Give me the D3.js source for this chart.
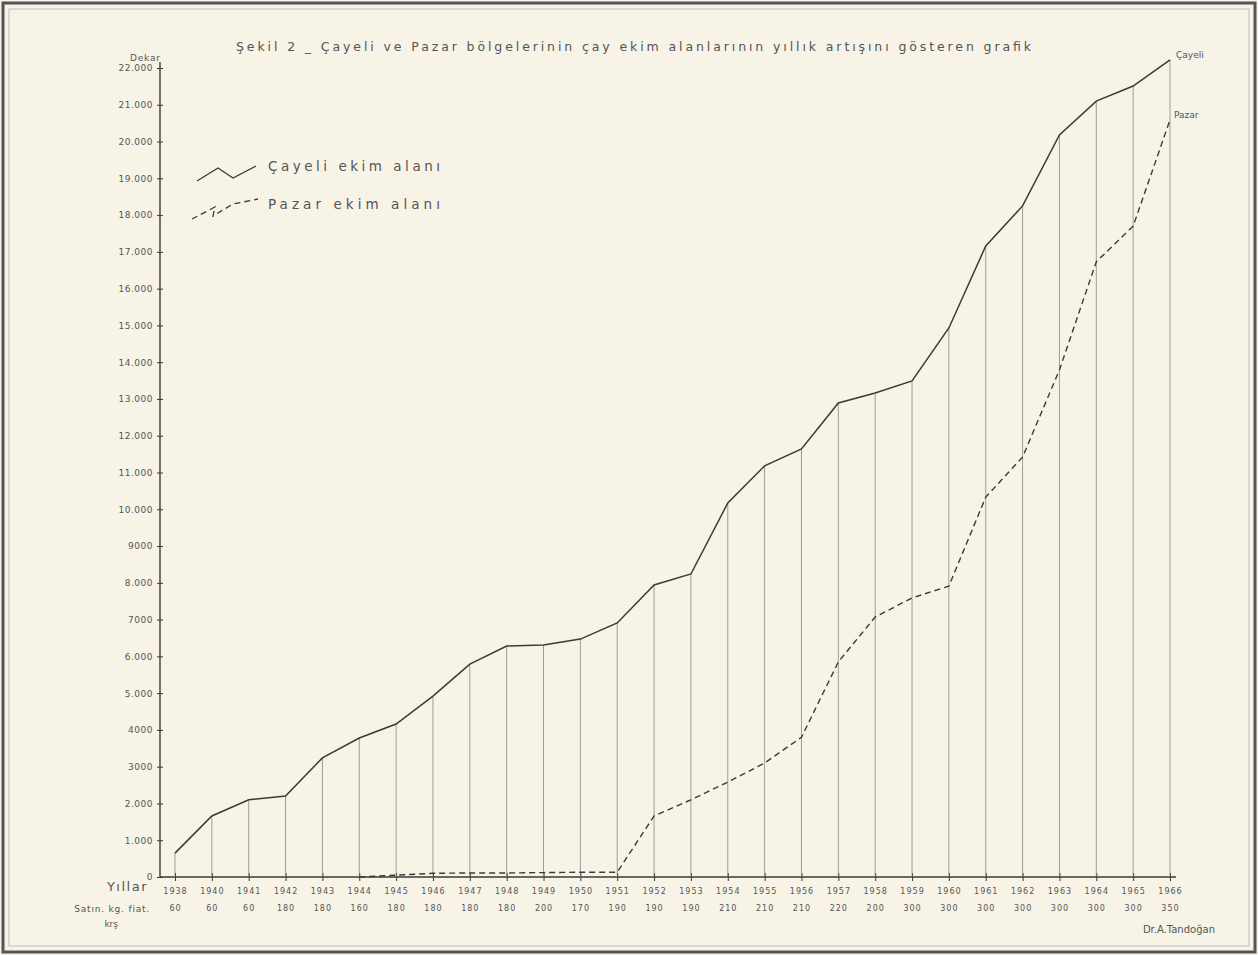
<!DOCTYPE html>
<html>
<head>
<meta charset="utf-8">
<script src="https://cdn.jsdelivr.net/npm/d3@7"></script>
<style>
  body { margin: 0; background: #f7f3e6; }
  svg text { font-family: "DejaVu Sans", sans-serif; fill: #555; }
</style>
</head>
<body>
<svg id="chart" width="1258" height="955"></svg>
<script>
// years on the x axis (1939 is missing in the original)
const years = [1938, 1940, 1941, 1942, 1943, 1944, 1945, 1946, 1947, 1948, 1949, 1950, 1951, 1952,
  1953, 1954, 1955, 1956, 1957, 1958, 1959, 1960, 1961, 1962, 1963, 1964, 1965, 1966];
// purchase price of fresh leaf, kuruş per kg
const prices = [60, 60, 60, 180, 180, 160, 180, 180, 180, 180, 200, 170, 190, 190,
  190, 210, 210, 210, 220, 200, 300, 300, 300, 300, 300, 300, 300, 350];
// planted area, dekar
const cayeli = [650, 1660, 2100, 2200, 3240, 3780, 4160, 4920, 5790, 6280, 6310, 6470, 6910, 7940,
  8240, 10170, 11180, 11640, 12890, 13160, 13490, 14930, 17160, 18250, 20180, 21100, 21510, 22220];
const pazar = [null, null, null, null, null, 0, 50, 100, 110, 110, 120, 130, 130, 1660,
  2100, 2580, 3100, 3800, 5850, 7070, 7590, 7910, 10330, 11420, 13790, 16730, 17700, 20590];
const yTicks = d3.range(0, 22001, 1000);
const yTickLabels = ['0', '1.000', '2.000', '3000', '4000', '5.000', '6.000', '7000', '8.000', '9000',
  '10.000', '11.000', '12.000', '13.000', '14.000', '15.000', '16.000', '17.000', '18.000', '19.000',
  '20.000', '21.000', '22.000'];

const svg = d3.select('#chart');
const ink = '#3a3a3a';

// paper frame
svg.append('rect').attr('x', 3).attr('y', 3).attr('width', 1252).attr('height', 949)
  .attr('fill', 'none').attr('stroke', '#555').attr('stroke-width', 3);
svg.append('rect').attr('x', 9).attr('y', 9).attr('width', 1240).attr('height', 937)
  .attr('fill', 'none').attr('stroke', '#999').attr('stroke-width', 0.6);

const x = d3.scalePoint().domain(years).range([175, 1170]);
const y = d3.scaleLinear().domain([0, 22000]).range([877, 68]);

// y axis
const yAxisG = svg.append('g').attr('transform', 'translate(160,0)')
  .call(d3.axisLeft(y).tickValues(yTicks).tickFormat((d, i) => yTickLabels[i]).tickSize(3).tickPadding(4));
yAxisG.select('.domain').attr('d', `M0,${y(0)}V${y(22000) - 6}`).attr('stroke', ink).attr('stroke-width', 1.4);
yAxisG.selectAll('.tick line').attr('x1', -3).attr('x2', 3).attr('stroke', ink);
yAxisG.selectAll('.tick text').attr('font-size', 9).attr('letter-spacing', 0.5).attr('fill', '#555');

// x axis with years
const xAxisG = svg.append('g').attr('transform', `translate(0,${y(0)})`)
  .call(d3.axisBottom(x).tickSize(3).tickPadding(8));
xAxisG.select('.domain').attr('d', 'M160,0H1176').attr('stroke', ink).attr('stroke-width', 1.4);
xAxisG.selectAll('.tick line').attr('y1', -4).attr('y2', 4).attr('stroke', ink);
xAxisG.selectAll('.tick text').attr('font-size', 8).attr('letter-spacing', 1).attr('fill', '#555');

// price row
const priceG = svg.append('g').attr('transform', `translate(0,${y(0) + 20})`)
  .call(d3.axisBottom(x).tickSize(0).tickPadding(8).tickFormat((d, i) => prices[i]));
priceG.select('.domain').remove();
priceG.selectAll('.tick text').attr('font-size', 8).attr('letter-spacing', 1).attr('fill', '#555');

// drop lines from the Çayeli curve down to the axis
svg.append('g').selectAll('line').data(years).join('line')
  .attr('x1', d => x(d)).attr('x2', d => x(d))
  .attr('y1', y(0)).attr('y2', (d, i) => y(cayeli[i]))
  .attr('stroke', '#777').attr('stroke-width', 0.7);

const line = d3.line().defined(d => d[1] != null).x(d => x(d[0])).y(d => y(d[1]));
svg.append('path').datum(years.map((d, i) => [d, cayeli[i]]))
  .attr('d', line).attr('fill', 'none').attr('stroke', ink).attr('stroke-width', 1.5);
svg.append('path').datum(years.map((d, i) => [d, pazar[i]]))
  .attr('d', line).attr('fill', 'none').attr('stroke', ink).attr('stroke-width', 1.4)
  .attr('stroke-dasharray', '6,4');

// series names at the end of the lines
svg.append('text').attr('x', x(1966) + 6).attr('y', y(cayeli[27]) - 2).attr('font-size', 9).text('Çayeli');
svg.append('text').attr('x', x(1966) + 4).attr('y', y(pazar[27]) - 2).attr('font-size', 9).text('Pazar');

// title and axis names
svg.append('text').attr('x', 236).attr('y', 51).attr('font-size', 12.5)
  .attr('textLength', 795).attr('lengthAdjust', 'spacing')
  .text('Şekil 2 _ Çayeli ve Pazar bölgelerinin çay ekim alanlarının yıllık artışını gösteren grafik');
svg.append('text').attr('x', 130).attr('y', 61).attr('font-size', 9).attr('letter-spacing', 0.8).text('Dekar');
svg.append('text').attr('x', 148).attr('y', 891).attr('text-anchor', 'end').attr('font-size', 13)
  .attr('letter-spacing', 1.5).text('Yıllar');
svg.append('text').attr('x', 150).attr('y', 912).attr('text-anchor', 'end').attr('font-size', 9)
  .attr('letter-spacing', 0.8).text('Satın. kg. fiat.');
svg.append('text').attr('x', 118).attr('y', 927).attr('text-anchor', 'end').attr('font-size', 9).text('krş');
svg.append('text').attr('x', 1215).attr('y', 933).attr('text-anchor', 'end').attr('font-size', 10).text('Dr.A.Tandoğan');

// legend
const legend = [
  {name: 'Çayeli ekim alanı', dash: null, pts: [[197, 181], [218, 168], [233, 178], [256, 166]], ty: 171},
  {name: 'Pazar ekim alanı', dash: '6,4', pts: [[192, 219], [215, 207], [213, 216], [233, 204], [258, 199]], ty: 209}
];
legend.forEach(l => {
  svg.append('path').attr('d', d3.line()(l.pts)).attr('fill', 'none').attr('stroke', ink)
    .attr('stroke-width', 1.3).attr('stroke-dasharray', l.dash);
  svg.append('text').attr('x', 268).attr('y', l.ty).attr('font-size', 13.5)
    .attr('textLength', 172).attr('lengthAdjust', 'spacing').text(l.name);
});
</script>
</body>
</html>
